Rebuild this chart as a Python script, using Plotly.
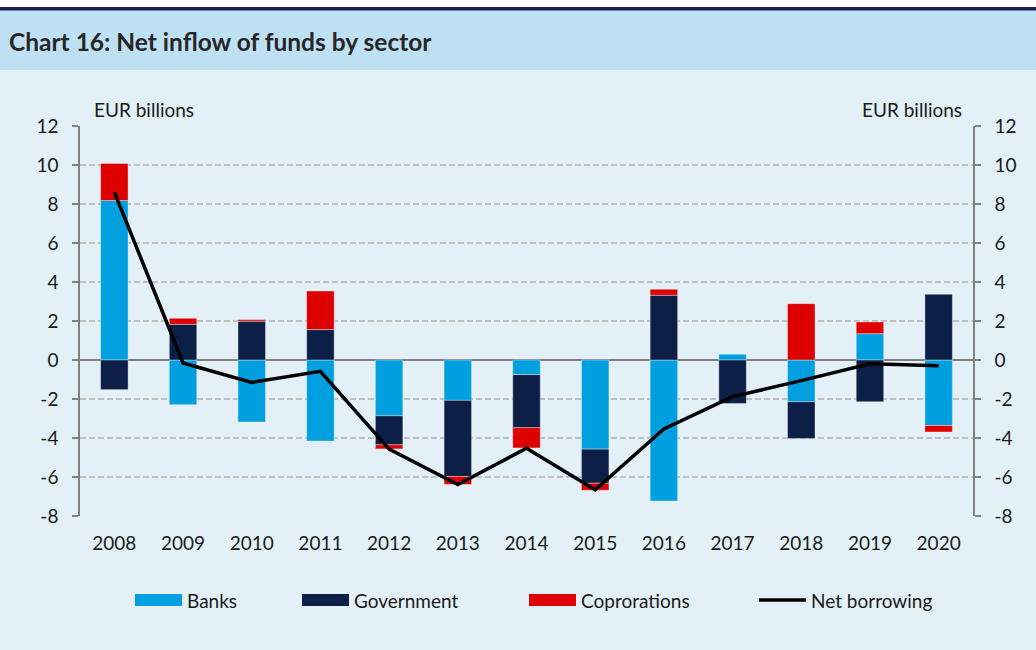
import plotly.graph_objects as go

# --- data (EUR billions) ---
YEARS = ["2008", "2009", "2010", "2011", "2012", "2013", "2014",
         "2015", "2016", "2017", "2018", "2019", "2020"]
BANKS = [8.18, -2.29, -3.18, -4.16, -2.86, -2.07, -0.75,
         -4.57, -7.23, 0.31, -2.14, 1.35, -3.36]
GOVERNMENT = [-1.52, 1.83, 1.99, 1.56, -1.49, -3.90, -2.72,
              -1.75, 3.32, -2.23, -1.88, -2.14, 3.37]
CORPORATIONS = [1.90, 0.31, 0.08, 1.98, -0.21, -0.41, -1.04,
                -0.36, 0.31, 0.0, 2.89, 0.60, -0.33]
NET_BORROWING = [8.61, -0.15, -1.15, -0.58, -4.57, -6.39, -4.52,
                 -6.66, -3.54, -1.88, -1.06, -0.19, -0.29]
TICK_VALS = [-8, -6, -4, -2, 0, 2, 4, 6, 8, 10, 12]
TICK_LABELS = ["-8", "-6", "-4", "-2", "0", "2", "4", "6", "8", "10", "12"]

COLOR_BANKS = "#009FDF"
COLOR_GOV = "#0C1F47"
COLOR_CORP = "#DE0000"
COLOR_LINE = "#000000"
COLOR_BG = "#E3F0F7"
COLOR_HEADER = "#BEE0F3"
COLOR_FONT = "#1A1A1A"
FONT_FAMILY = "Lato"
SIZE_TEXT = 19

W, H = 1036, 650
M_L, M_R, M_T, M_B = 80, 63, 126, 134
PW, PH = W - M_L - M_R, H - M_T - M_B


def px_x(px):
    return (px - M_L) / PW


def px_y(py):
    return (H - M_B - py) / PH


fig = go.Figure()

bar_series = [("Banks", BANKS, COLOR_BANKS),
              ("Government", GOVERNMENT, COLOR_GOV),
              ("Coprorations", CORPORATIONS, COLOR_CORP)]

for name, vals, color in bar_series:
    fig.add_trace(go.Bar(
        x=YEARS, y=vals, name=name,
        marker=dict(color=color, line=dict(color="rgba(255,255,255,0.45)", width=0.8)),
        width=0.4,
        hovertemplate="<b>%{x}</b><br>" + name + ": %{y:.2f}<extra></extra>",
    ))

fig.add_trace(go.Scatter(
    x=YEARS, y=NET_BORROWING, name="Net borrowing",
    mode="lines", line=dict(color=COLOR_LINE, width=3.5),
    hovertemplate="<b>%{x}</b><br>Net borrowing: %{y:.2f}<extra></extra>",
))

# invisible trace to carry the right-hand axis
fig.add_trace(go.Scatter(x=YEARS, y=NET_BORROWING, yaxis="y2",
                         mode="lines", line=dict(width=0), opacity=0,
                         showlegend=False, hoverinfo="skip"))

shapes = [
    # header band
    dict(type="rect", xref="paper", yref="paper",
         x0=px_x(0), x1=px_x(W), y0=px_y(70), y1=px_y(10),
         fillcolor=COLOR_HEADER, line_width=0, layer="below"),
    dict(type="rect", xref="paper", yref="paper",
         x0=px_x(0), x1=px_x(W), y0=px_y(10.5), y1=px_y(7),
         fillcolor="#1B1F4B", line_width=0, layer="below"),
    dict(type="rect", xref="paper", yref="paper",
         x0=px_x(0), x1=px_x(W), y0=px_y(7), y1=px_y(0),
         fillcolor="#FFFFFF", line_width=0, layer="below"),
]

annotations = [
    dict(text="<b>Chart 16: Net inflow of funds by sector</b>",
         xref="paper", yref="paper", x=px_x(7), y=px_y(41),
         xanchor="left", yanchor="middle", showarrow=False,
         font=dict(family=FONT_FAMILY, size=24.5, color="#262626")),
    dict(text="EUR billions", xref="paper", yref="paper",
         x=px_x(92), y=px_y(110), xanchor="left", yanchor="middle",
         showarrow=False, font=dict(family=FONT_FAMILY, size=SIZE_TEXT, color=COLOR_FONT)),
    dict(text="EUR billions", xref="paper", yref="paper",
         x=px_x(964), y=px_y(110), xanchor="right", yanchor="middle",
         showarrow=False, font=dict(family=FONT_FAMILY, size=SIZE_TEXT, color=COLOR_FONT)),
]

# hand-built legend (wide swatches like the original)
legend_items = [("Banks", COLOR_BANKS, "bar", 135),
                ("Government", COLOR_GOV, "bar", 302),
                ("Coprorations", COLOR_CORP, "bar", 529),
                ("Net borrowing", COLOR_LINE, "line", 759)]
for name, color, kind, x0 in legend_items:
    if kind == "bar":
        shapes.append(dict(type="rect", xref="paper", yref="paper",
                           x0=px_x(x0), x1=px_x(x0 + 47), y0=px_y(606), y1=px_y(594),
                           fillcolor=color, line_width=0))
    else:
        shapes.append(dict(type="line", xref="paper", yref="paper",
                           x0=px_x(x0), x1=px_x(x0 + 47), y0=px_y(600), y1=px_y(600),
                           line=dict(color=color, width=3.5)))
    annotations.append(dict(text=name, xref="paper", yref="paper",
                            x=px_x(x0 + 50), y=px_y(600), xanchor="left", yanchor="middle",
                            showarrow=False,
                            font=dict(family=FONT_FAMILY, size=SIZE_TEXT, color=COLOR_FONT)))

axis_common = dict(
    range=[-8, 12], tickvals=TICK_VALS, ticktext=TICK_LABELS,
    ticks="outside", ticklen=6, tickcolor="#808080", tickwidth=1.5,
    showline=True, linecolor="#808080", linewidth=1.5,
    tickfont=dict(family=FONT_FAMILY, size=SIZE_TEXT, color=COLOR_FONT),
    ticklabelstandoff=10,
)

fig.update_layout(
    width=W, height=H,
    barmode="relative",
    showlegend=False,
    font=dict(family=FONT_FAMILY, size=SIZE_TEXT, color=COLOR_FONT),
    paper_bgcolor=COLOR_BG,
    plot_bgcolor=COLOR_BG,
    margin=dict(l=M_L, r=M_R, t=M_T, b=M_B),
    xaxis=dict(
        type="category", range=[-0.5, 12.5],
        showgrid=False, showline=False, ticks="",
        tickfont=dict(family=FONT_FAMILY, size=SIZE_TEXT, color=COLOR_FONT),
        ticklabelstandoff=14,
    ),
    yaxis=dict(
        **axis_common, side="left",
        showgrid=True, gridcolor="#BFBFBF", gridwidth=1.5, griddash="6px,3px",
        zeroline=True, zerolinecolor="#808080", zerolinewidth=2,
    ),
    yaxis2=dict(
        **axis_common, side="right", overlaying="y",
        showgrid=False, zeroline=False,
    ),
    shapes=shapes,
    annotations=annotations,
    hoverlabel=dict(font_family=FONT_FAMILY, bordercolor="gray"),
)

# drop the browser's default 8px page margin so the chart sits at the window corner
fig.write_html("out.html", config={"displayModeBar": False},
               post_script="document.body.style.margin='0';")
